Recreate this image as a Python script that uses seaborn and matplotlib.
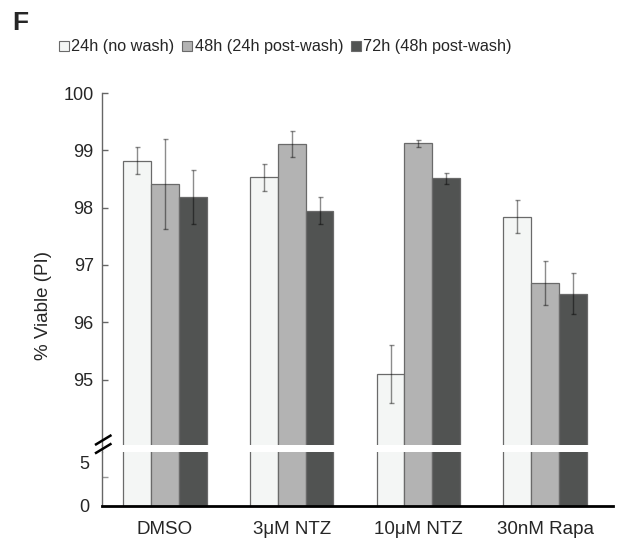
import numpy as np
import pandas as pd
import matplotlib
matplotlib.use("Agg")
import matplotlib.pyplot as plt
import seaborn as sns
from matplotlib.patches import Patch
from matplotlib.lines import Line2D

treatments = ["DMSO", "3\u03bcM NTZ", "10\u03bcM NTZ", "30nM Rapa"]
timepoints = ["24h (no wash)", "48h (24h post-wash)", "72h (48h post-wash)"]
viable_24h = [98.82, 98.53, 95.10, 97.84]
viable_48h = [98.41, 99.11, 99.12, 96.68]
viable_72h = [98.19, 97.95, 98.51, 96.50]
err_24h = [0.23, 0.24, 0.50, 0.285]
err_48h = [0.79, 0.235, 0.06, 0.385]
err_72h = [0.47, 0.235, 0.10, 0.36]
y_ticks_top = [95, 96, 97, 98, 99, 100]

colors = ["#f4f6f5", "#b3b3b3", "#515352"]
values = [viable_24h, viable_48h, viable_72h]
errors = [err_24h, err_48h, err_72h]

rows = []
for tp, vals in zip(timepoints, values):
    for t, v in zip(treatments, vals):
        rows.append({"treatment": t, "timepoint": tp, "viable": v})
df = pd.DataFrame(rows)

sns.set_style("white")
plt.rcParams["font.family"] = ["Liberation Sans", "DejaVu Sans"]

W, H = 635, 546
fig = plt.figure(figsize=(W / 100, H / 100), dpi=100)

def fx(px):
    return px / W

def fy(py):
    return 1 - py / H

left_px, right_px = 102, 613
top_top, top_bot = 93, 445
bot_top, bot_bot = 452, 506

ax_top = fig.add_axes([fx(left_px), fy(top_bot), fx(right_px - left_px), (top_bot - top_top) / H])
ax_bot = fig.add_axes([fx(left_px), fy(bot_bot), fx(right_px - left_px), (bot_bot - bot_top) / H])

for ax in (ax_top, ax_bot):
    sns.barplot(data=df, x="treatment", y="viable", hue="timepoint",
                order=treatments, hue_order=timepoints, palette=colors,
                width=0.66, errorbar=None, edgecolor="#6a6a6a", linewidth=0.9,
                legend=False, ax=ax)
    ax.set_xlim(-0.497, 3.536)
    ax.set_xlabel("")
    ax.set_ylabel("")
    ax.spines["top"].set_visible(False)
    ax.spines["right"].set_visible(False)
    ax.spines["left"].set_color("#666666")
    ax.spines["left"].set_linewidth(1.0)

# error bars on the upper panel
for cont, errs in zip(ax_top.containers, errors):
    xs = [b.get_x() + b.get_width() / 2 for b in cont]
    hs = [b.get_height() for b in cont]
    ax_top.errorbar(xs, hs, yerr=errs, fmt="none", ecolor="black", alpha=0.45,
                    elinewidth=1.0, capsize=1.8, capthick=1.0, zorder=5)

ax_top.set_ylim(93.86, 100)
ax_top.set_yticks(y_ticks_top)
ax_top.set_yticklabels([str(v) for v in y_ticks_top])
ax_top.spines["bottom"].set_visible(False)
ax_top.tick_params(axis="x", bottom=False, labelbottom=False)
ax_top.tick_params(axis="y", direction="in", length=4, width=1, color="#666666",
                   labelsize=13, pad=6, left=True)

ax_bot.set_ylim(0, 6.2)
ax_bot.set_yticks([0, 5])
ax_bot.set_yticklabels(["0", "5"])
ax_bot.set_yticks([3.3], minor=True)
ax_bot.tick_params(axis="y", which="major", length=0, labelsize=13, pad=9, left=True)
ax_bot.tick_params(axis="y", which="minor", direction="in", length=4, width=1,
                   color="#999999", left=True)
ax_bot.spines["bottom"].set_color("black")
ax_bot.spines["bottom"].set_linewidth(2.0)
ax_bot.tick_params(axis="x", length=0, labelsize=13.5, pad=11)

# continue left spine across the break
fig.add_artist(Line2D([fx(left_px), fx(left_px)], [fy(top_bot), fy(bot_top)],
                      color="#666666", lw=1.0))
# break marks
for dy in (0, 8.5):
    fig.add_artist(Line2D([fx(95), fx(111.5)], [fy(445 + dy), fy(435 + dy)],
                          color="black", lw=1.8, solid_capstyle="butt"))

fig.text(fx(43), fy(305), "% Viable (PI)", rotation=90, ha="center", va="center",
         fontsize=13.5)
fig.text(fx(12), fy(23), "F", fontsize=19, fontweight="bold", ha="left", va="center")

handles = [Patch(facecolor=c, edgecolor="#6a6a6a", linewidth=0.8) for c in colors]
fig.legend(handles, timepoints, loc="center left", bbox_to_anchor=(fx(59), fy(47)),
           ncol=3, frameon=False, fontsize=11.7, handlelength=0.6, handleheight=0.6,
           handletextpad=0.15, columnspacing=0.5, borderaxespad=0, borderpad=0)

fig.savefig("out.png", dpi=100)
